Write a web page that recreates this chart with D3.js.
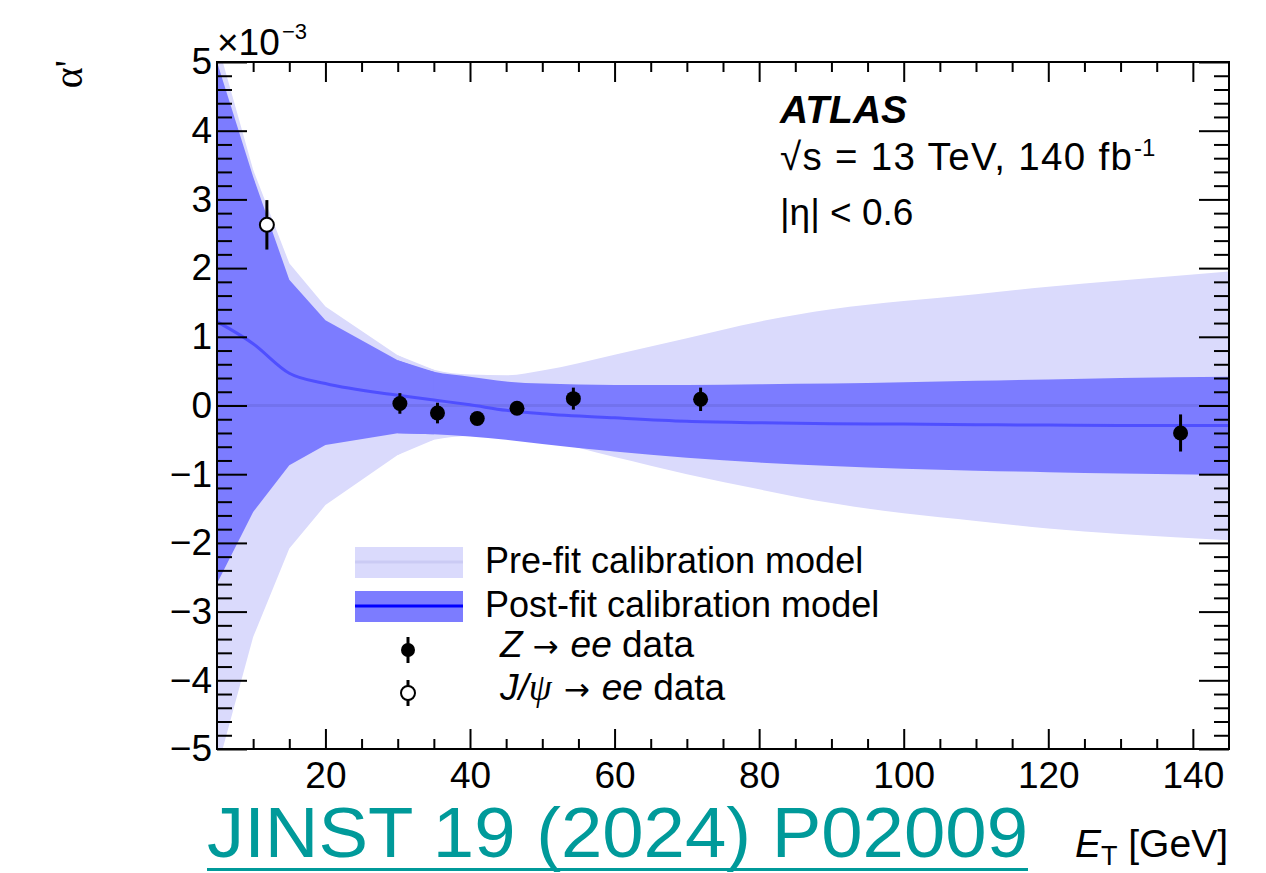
<!DOCTYPE html>
<html lang="en">
<head>
  <meta charset="UTF-8">
  <title>alpha' vs ET</title>
  <script src="https://cdn.jsdelivr.net/npm/d3@7"></script>
  <style>
    * { margin: 0; padding: 0; box-sizing: border-box; }
    body { width: 1266px; height: 873px; background: #fff; overflow: hidden; }
    svg text { font-family: "Liberation Sans", Arial, sans-serif; fill: #000; }
  </style>
</head>
<body>
  <div id="chart"></div>

  <script>
    // Model bands (x nodes in GeV, values in units of 1e-3)
    const etNodes  = [5, 10, 15, 20, 30, 35, 40, 45, 50, 60, 70, 80, 90, 100, 110, 120, 130, 145];
    const preUp    = [5.3, 3.43, 2.07, 1.44, 0.73, 0.52, 0.45, 0.44, 0.51, 0.74, 0.98, 1.22, 1.40, 1.52, 1.62, 1.73, 1.82, 1.95];
    const preLo    = [-5.3, -3.37, -2.08, -1.45, -0.72, -0.50, -0.44, -0.43, -0.50, -0.75, -1.00, -1.22, -1.42, -1.57, -1.68, -1.79, -1.87, -1.96];
    const postUp   = [5.0, 3.33, 1.83, 1.24, 0.66, 0.49, 0.42, 0.35, 0.32, 0.30, 0.30, 0.31, 0.32, 0.34, 0.36, 0.38, 0.40, 0.42];
    const postLo   = [-2.59, -1.55, -0.87, -0.575, -0.405, -0.42, -0.45, -0.50, -0.56, -0.67, -0.76, -0.83, -0.88, -0.92, -0.95, -0.97, -0.99, -1.01];
    const postMid  = [1.22, 0.90, 0.47, 0.32, 0.15, 0.08, 0.01, -0.07, -0.12, -0.18, -0.23, -0.25, -0.265, -0.27, -0.28, -0.285, -0.29, -0.29];

    // Data points
    const zEt      = [30.3, 35.5, 41.0, 46.5, 54.3, 71.9, 138.3];
    const zAlpha   = [0.03, -0.11, -0.19, -0.04, 0.10, 0.09, -0.40];
    const zErr     = [0.15, 0.15, 0.07, 0.07, 0.16, 0.17, 0.27];
    const jpsiEt    = [11.9];
    const jpsiAlpha = [2.63];
    const jpsiErr   = [0.36];

    const xMajor = [20, 40, 60, 80, 100, 120, 140];
    const yMajor = [-5, -4, -3, -2, -1, 0, 1, 2, 3, 4, 5];

    const width = 1266, height = 873;
    const L = 217, R = 1229, T = 62, B = 749;
    const kinkEnd = 4; // index of 30 GeV: linear segments before, smooth after

    const x = d3.scaleLinear().domain([5, 145]).range([L, R]);
    const y = d3.scaleLinear().domain([-5, 5]).range([B, T]);

    const svg = d3.select('#chart').append('svg')
      .attr('width', width).attr('height', height);

    svg.append('clipPath').attr('id', 'plot')
      .append('rect').attr('x', L).attr('y', T).attr('width', R - L).attr('height', B - T);

    const plot = svg.append('g').attr('clip-path', 'url(#plot)');

    // band drawn as a linear part (low ET) and a smooth part (high ET);
    // the linear part runs one node further so the two pieces overlap (no seam)
    const drawBand = (up, lo, fill) => {
      const pts = etNodes.map((e, i) => ({ e, u: up[i], l: lo[i] }));
      const lin = d3.area().x(d => x(d.e)).y0(d => y(d.l)).y1(d => y(d.u));
      const smooth = d3.area().x(d => x(d.e)).y0(d => y(d.l)).y1(d => y(d.u)).curve(d3.curveMonotoneX);
      const g = plot.append('g');
      g.append('path').attr('d', smooth(pts.slice(kinkEnd))).attr('fill', fill);
      g.append('path').attr('d', lin(pts.slice(0, kinkEnd + 2))).attr('fill', fill);
    };

    drawBand(preUp, preLo, '#dadafc');
    drawBand(postUp, postLo, '#7c7cff');
    plot.append('line')
      .attr('x1', x(5)).attr('x2', x(145)).attr('y1', y(0)).attr('y2', y(0))
      .attr('stroke', '#7272ee').attr('stroke-width', 3);

    // post-fit central line
    const midLine = d3.line()
      .x((d, i) => x(etNodes[i]))
      .y(d => y(d))
      .curve(d3.curveMonotoneX);
    plot.append('path').attr('d', midLine(postMid))
      .attr('fill', 'none').attr('stroke', '#4f4fff').attr('stroke-width', 3);

    // error bars + markers
    const drawPoints = (xs, ys, es, filled) => {
      const g = plot.append('g');
      xs.forEach((xv, i) => {
        g.append('line')
          .attr('x1', x(xv)).attr('x2', x(xv))
          .attr('y1', y(ys[i] + es[i])).attr('y2', y(ys[i] - es[i]))
          .attr('stroke', '#000').attr('stroke-width', 3);
        g.append('circle')
          .attr('cx', x(xv)).attr('cy', y(ys[i]))
          .attr('r', filled ? 7.5 : 7)
          .attr('fill', filled ? '#000' : '#fff')
          .attr('stroke', '#000').attr('stroke-width', filled ? 0 : 2);
      });
    };
    drawPoints(zEt, zAlpha, zErr, true);
    drawPoints(jpsiEt, jpsiAlpha, jpsiErr, false);

    // axes (ROOT style: ticks inside on all four sides)
    const xMinor = d3.range(10, 145, 5).filter(v => v % 20 !== 0);
    const yMinor = d3.range(-50, 51, 2).map(v => v / 10).filter(v => !Number.isInteger(v));

    const styleAxis = g => {
      g.select('.domain').remove();
      g.selectAll('.tick line').attr('stroke', '#000').attr('stroke-width', 2);
      g.selectAll('.tick text').attr('font-size', 37).attr('font-family', '"Liberation Sans", Arial, sans-serif').attr('fill', '#000');
    };

    svg.append('g').attr('transform', `translate(0,${B})`)
      .call(d3.axisBottom(x).tickValues(xMajor).tickSizeInner(-20).tickSizeOuter(0).tickPadding(13).tickFormat(d3.format('d')))
      .call(styleAxis);
    svg.append('g').attr('transform', `translate(0,${B})`)
      .call(d3.axisBottom(x).tickValues(xMinor).tickSizeInner(-10).tickSizeOuter(0).tickFormat(''))
      .call(styleAxis);
    svg.append('g').attr('transform', `translate(0,${T})`)
      .call(d3.axisTop(x).tickValues(xMajor).tickSizeInner(-20).tickSizeOuter(0).tickFormat(''))
      .call(styleAxis);
    svg.append('g').attr('transform', `translate(0,${T})`)
      .call(d3.axisTop(x).tickValues(xMinor).tickSizeInner(-10).tickSizeOuter(0).tickFormat(''))
      .call(styleAxis);

    svg.append('g').attr('transform', `translate(${L},0)`)
      .call(d3.axisLeft(y).tickValues(yMajor).tickSizeInner(-30).tickSizeOuter(0).tickPadding(5).tickFormat(d3.format('d')))
      .call(styleAxis);
    svg.append('g').attr('transform', `translate(${L},0)`)
      .call(d3.axisLeft(y).tickValues(yMinor).tickSizeInner(-15).tickSizeOuter(0).tickFormat(''))
      .call(styleAxis);
    svg.append('g').attr('transform', `translate(${R},0)`)
      .call(d3.axisRight(y).tickValues(yMajor).tickSizeInner(-30).tickSizeOuter(0).tickFormat(''))
      .call(styleAxis);
    svg.append('g').attr('transform', `translate(${R},0)`)
      .call(d3.axisRight(y).tickValues(yMinor).tickSizeInner(-15).tickSizeOuter(0).tickFormat(''))
      .call(styleAxis);

    svg.append('rect')
      .attr('x', L).attr('y', T).attr('width', R - L).attr('height', B - T)
      .attr('fill', 'none').attr('stroke', '#000').attr('stroke-width', 2);

    // exponent label
    svg.append('text').attr('x', L).attr('y', 55).attr('font-size', 37).text('×10');
    svg.append('text').attr('x', 282).attr('y', 39).attr('font-size', 22).text('−3');

    // axis titles
    svg.append('text')
      .attr('transform', 'translate(82,60) rotate(-90)')
      .attr('text-anchor', 'end')
      .style('font-family', '"Liberation Serif", "Times New Roman", serif')
      .attr('font-size', 40)
      .text("α'");

    const xt = svg.append('text').attr('x', 1228).attr('y', 857)
      .attr('text-anchor', 'end').attr('font-size', 39);
    xt.append('tspan').attr('font-style', 'italic').text('E');
    xt.append('tspan').attr('font-size', 27).attr('dy', 8).text('T');
    xt.append('tspan').attr('dy', -8).text(' [GeV]');

    // ATLAS label block
    svg.append('text').attr('x', 780).attr('y', 123)
      .attr('font-size', 39).attr('font-weight', 'bold').attr('font-style', 'italic')
      .text('ATLAS');
    svg.append('text').attr('x', 780).attr('y', 170).attr('font-size', 38.5)
      .attr('textLength', 352).attr('lengthAdjust', 'spacing')
      .text('√s = 13 TeV, 140 fb');
    svg.append('text').attr('x', 1134).attr('y', 156).attr('font-size', 24).text('-1');
    svg.append('text').attr('x', 780).attr('y', 225).attr('font-size', 37).text('|η| < 0.6');

    // legend
    const lg = svg.append('g');
    lg.append('rect').attr('x', 355).attr('y', 547).attr('width', 108).attr('height', 31).attr('fill', '#dadafc');
    lg.append('line').attr('x1', 355).attr('x2', 463).attr('y1', 562).attr('y2', 562)
      .attr('stroke', '#cbcbf4').attr('stroke-width', 3);
    lg.append('rect').attr('x', 355).attr('y', 591).attr('width', 108).attr('height', 31).attr('fill', '#7c7cff');
    lg.append('line').attr('x1', 355).attr('x2', 463).attr('y1', 606).attr('y2', 606)
      .attr('stroke', '#0000ff').attr('stroke-width', 3);

    const legMarker = (cy, filled) => {
      lg.append('line').attr('x1', 408).attr('x2', 408).attr('y1', cy - 13).attr('y2', cy + 13)
        .attr('stroke', '#000').attr('stroke-width', 3);
      lg.append('circle').attr('cx', 408).attr('cy', cy).attr('r', 7)
        .attr('fill', filled ? '#000' : '#fff').attr('stroke', '#000').attr('stroke-width', filled ? 0 : 2);
    };
    legMarker(650, true);
    legMarker(693, false);

    lg.append('text').attr('x', 485).attr('y', 573).attr('font-size', 36).text('Pre-fit calibration model');
    lg.append('text').attr('x', 485).attr('y', 617).attr('font-size', 36).text('Post-fit calibration model');

    const zt = lg.append('text').attr('x', 500).attr('y', 657).attr('font-size', 37);
    zt.append('tspan').attr('font-style', 'italic').text('Z');
    zt.append('tspan').attr('dx', 10).style('font-family', '"DejaVu Sans", sans-serif').attr('font-size', 31).text('→');
    zt.append('tspan').attr('dx', 12).attr('font-style', 'italic').text('ee');
    zt.append('tspan').text(' data');

    const jt = lg.append('text').attr('x', 500).attr('y', 700).attr('font-size', 37);
    jt.append('tspan').attr('font-style', 'italic').text('J/');
    jt.append('tspan').attr('font-style', 'italic').style('font-family', '"Liberation Serif", serif').text('ψ');
    jt.append('tspan').attr('dx', 12).style('font-family', '"DejaVu Sans", sans-serif').attr('font-size', 31).text('→');
    jt.append('tspan').attr('dx', 12).attr('font-style', 'italic').text('ee');
    jt.append('tspan').text(' data');

    // reference tag
    svg.append('text').attr('x', 207).attr('y', 857)
      .attr('font-size', 70)
      .attr('textLength', 821).attr('lengthAdjust', 'spacingAndGlyphs')
      .style('fill', '#009a9a')
      .text('JINST 19 (2024) P02009');
    svg.append('line').attr('x1', 207).attr('x2', 1028).attr('y1', 869.5).attr('y2', 869.5)
      .attr('stroke', '#009a9a').attr('stroke-width', 3);
  </script>
</body>
</html>
